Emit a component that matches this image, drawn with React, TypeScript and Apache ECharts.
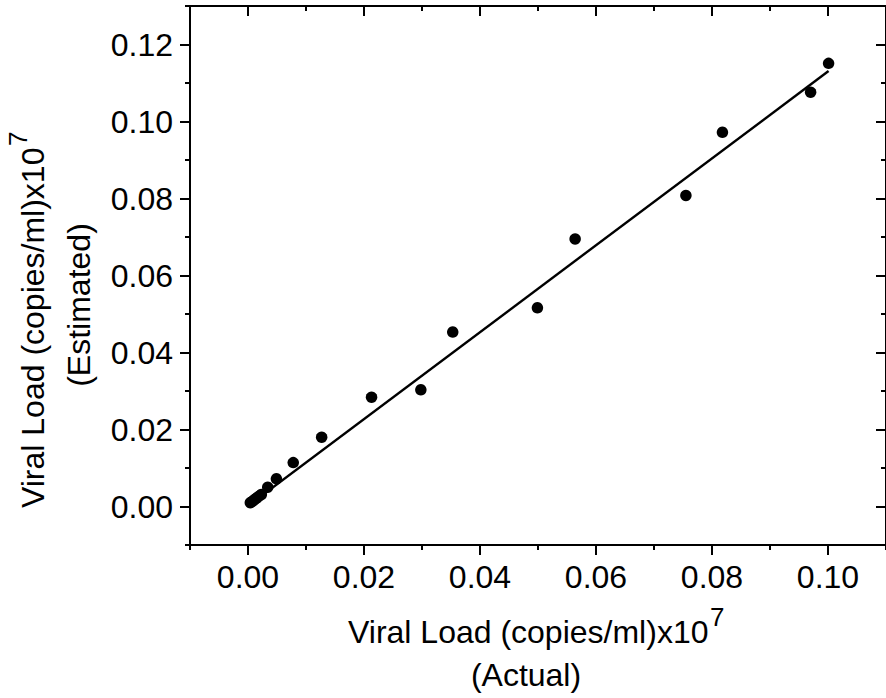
import React, { useEffect, useRef } from 'react';
import * as echarts from 'echarts';

const actual = [0.0004, 0.0006, 0.0009, 0.0012, 0.0015, 0.0019, 0.0023, 0.0034, 0.0049, 0.0078, 0.0127, 0.0213, 0.0298, 0.0353, 0.0499, 0.0564, 0.0755, 0.0818, 0.0970, 0.1001];
const estimated = [0.0010, 0.0012, 0.0015, 0.0019, 0.0022, 0.0027, 0.0031, 0.0050, 0.0072, 0.0114, 0.0180, 0.0284, 0.0303, 0.0453, 0.0516, 0.0695, 0.0808, 0.0972, 0.1076, 0.1151];
const fitX = [0.0003, 0.1001];
const fitY = [0.0005, 0.1131];
const xMajorTicks = [0, 0.02, 0.04, 0.06, 0.08, 0.1];
const yMajorTicks = [0, 0.02, 0.04, 0.06, 0.08, 0.1, 0.12];
const xTitle = 'Viral Load (copies/ml)x10';
const xTitle2 = '(Actual)';
const yTitle = 'Viral Load (copies/ml)x10';
const yTitle2 = '(Estimated)';
const sup = '7';

const FONT = '"Liberation Sans", Arial, Helvetica, sans-serif';
const BLACK = '#000';

function axisBase(kind: 'x' | 'y', position: string, extra: any) {
  const range = kind === 'x' ? { min: -0.01, max: 0.11 } : { min: -0.01, max: 0.13 };
  return {
    type: 'value',
    position,
    gridIndex: 0,
    ...range,
    splitLine: { show: false },
    axisLine: { show: false, onZero: false },
    axisLabel: { show: false },
    axisTick: { show: false },
    ...extra,
  };
}

export default function App() {
  const ref = useRef<HTMLDivElement>(null);
  useEffect(() => {
    document.body.style.margin = '0';
    const chart = echarts.init(ref.current!, null, { renderer: 'svg' });
    const lineStyle = { color: BLACK, width: 2 };
    const labelStyle = { color: BLACK, fontSize: 32, fontFamily: FONT };
    const titleStyle = { fontSize: 32, fontFamily: FONT, fill: BLACK };
    const supStyle = { fontSize: 26, fontFamily: FONT, fill: BLACK };
    const option: any = {
      animation: false,
      backgroundColor: '#fff',
      grid: { left: 190, top: 6, width: 697, height: 539, containLabel: false },
      xAxis: [
        axisBase('x', 'bottom', {
          axisLine: { show: true, onZero: false, lineStyle },
          axisTick: { show: true, customValues: xMajorTicks, length: 10, inside: false, lineStyle },
          axisLabel: { show: true, customValues: xMajorTicks, formatter: (v: number) => v.toFixed(2), margin: 16, ...labelStyle },
        }),
        axisBase('x', 'bottom', {
          interval: 0.01,
          axisTick: { show: true, length: 5, inside: false, lineStyle },
        }),
        axisBase('x', 'top', {
          axisLine: { show: true, onZero: false, lineStyle },
          axisTick: { show: true, customValues: xMajorTicks, length: 10, inside: true, lineStyle },
        }),
        axisBase('x', 'top', {
          interval: 0.01,
          axisTick: { show: true, length: 5, inside: true, lineStyle },
        }),
      ],
      yAxis: [
        axisBase('y', 'left', {
          axisLine: { show: true, onZero: false, lineStyle },
          axisTick: { show: true, customValues: yMajorTicks, length: 10, inside: false, lineStyle },
          axisLabel: { show: true, customValues: yMajorTicks, formatter: (v: number) => v.toFixed(2), margin: 17, ...labelStyle },
        }),
        axisBase('y', 'left', {
          interval: 0.01,
          axisTick: { show: true, length: 5, inside: false, lineStyle },
        }),
        axisBase('y', 'right', {
          axisLine: { show: true, onZero: false, lineStyle },
          axisTick: { show: true, customValues: yMajorTicks, length: 10, inside: true, lineStyle },
        }),
        axisBase('y', 'right', {
          interval: 0.01,
          axisTick: { show: true, length: 5, inside: true, lineStyle },
        }),
      ],
      series: [
        {
          type: 'scatter',
          xAxisIndex: 0,
          yAxisIndex: 0,
          symbol: 'circle',
          symbolSize: 11.5,
          itemStyle: { color: BLACK, opacity: 1 },
          data: actual.map((x, i) => [x, estimated[i]]),
          z: 2,
        },
        {
          type: 'line',
          xAxisIndex: 0,
          yAxisIndex: 0,
          symbol: 'none',
          lineStyle: { color: BLACK, width: 2.4 },
          data: fitX.map((x, i) => [x, fitY[i]]),
          z: 3,
        },
      ],
      graphic: [
        {
          type: 'text', x: 348, y: 632,
          style: { text: xTitle, ...titleStyle, align: 'left', verticalAlign: 'middle', textAlign: 'left', textVerticalAlign: 'middle' },
        },
        {
          type: 'text', x: 710, y: 617,
          style: { text: sup, ...supStyle, align: 'left', verticalAlign: 'middle', textAlign: 'left', textVerticalAlign: 'middle' },
        },
        {
          type: 'text', x: 526, y: 675,
          style: { text: xTitle2, ...titleStyle, align: 'center', verticalAlign: 'middle', textAlign: 'center', textVerticalAlign: 'middle' },
        },
        {
          type: 'text', x: 32.5, y: 508, rotation: Math.PI / 2,
          style: { text: yTitle, ...titleStyle, align: 'left', verticalAlign: 'middle', textAlign: 'left', textVerticalAlign: 'middle' },
        },
        {
          type: 'text', x: 17.5, y: 146, rotation: Math.PI / 2,
          style: { text: sup, ...supStyle, align: 'left', verticalAlign: 'middle', textAlign: 'left', textVerticalAlign: 'middle' },
        },
        {
          type: 'text', x: 79, y: 305, rotation: Math.PI / 2,
          style: { text: yTitle2, ...titleStyle, align: 'center', verticalAlign: 'middle', textAlign: 'center', textVerticalAlign: 'middle' },
        },
      ],
    };
    chart.setOption(option);
    return () => chart.dispose();
  }, []);
  return <div ref={ref} style={{ position: 'fixed', left: 0, top: 0, width: 886, height: 698 }} />;
}
